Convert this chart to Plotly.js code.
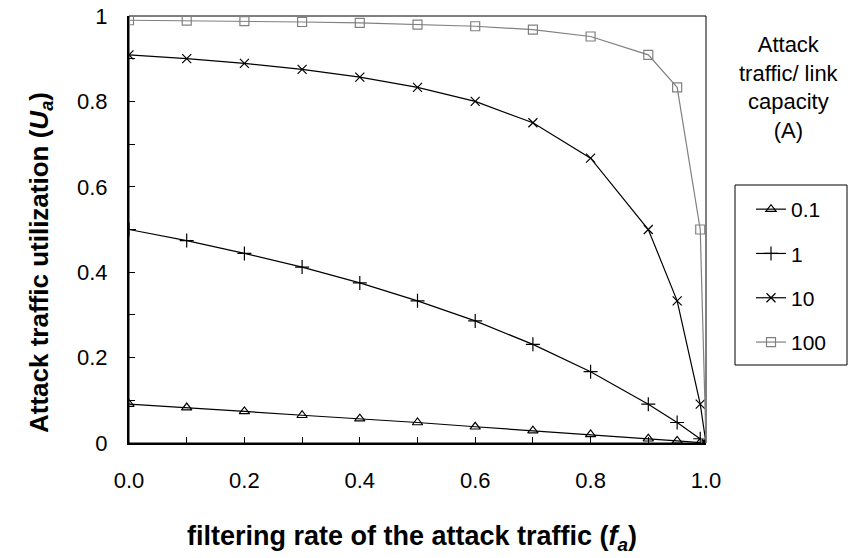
<!DOCTYPE html>
<html><head><meta charset="utf-8">
<script src="https://cdn.plot.ly/plotly-3.0.1.min.js"></script>
<style>html,body{margin:0;padding:0;background:#fff}#chart{width:850px;height:558px}</style>
</head><body><div id="chart"></div>
<script>
const filterRate = [0, 0.1, 0.2, 0.3, 0.4, 0.5, 0.6, 0.7, 0.8, 0.9, 0.95, 0.99, 1.0];
const seriesNames = ['0.1', '1', '10', '100'];
const ua_01  = [0.091, 0.083, 0.074, 0.065, 0.057, 0.048, 0.038, 0.029, 0.020, 0.010, 0.005, 0.001, 0];
const ua_1   = [0.5, 0.474, 0.444, 0.412, 0.375, 0.333, 0.286, 0.231, 0.167, 0.091, 0.048, 0.010, 0];
const ua_10  = [0.909, 0.9, 0.889, 0.875, 0.857, 0.833, 0.8, 0.75, 0.667, 0.5, 0.333, 0.091, 0];
const ua_100 = [0.990, 0.989, 0.988, 0.986, 0.984, 0.980, 0.976, 0.968, 0.952, 0.909, 0.833, 0.5, 0];
const xTickVals = [0, 0.2, 0.4, 0.6, 0.8, 1.0];
const xTickText = ['0.0', '0.2', '0.4', '0.6', '0.8', '1.0'];
const yTickVals = [0, 0.2, 0.4, 0.6, 0.8, 1];
const yTickText = ['0', '0.2', '0.4', '0.6', '0.8', '1'];

const FONT = 'Liberation Sans, Arial, sans-serif';
const seriesData = [ua_01, ua_1, ua_10, ua_100];
const symbols = ['triangle-up-open', 'cross-thin-open', 'x-thin-open', 'square-open'];
const colors = ['#000000', '#000000', '#000000', '#808080'];
const sizes = [9, 10, 9, 9];

const traces = seriesData.map((y, i) => ({
  x: filterRate, y: y, name: seriesNames[i], type: 'scatter', mode: 'lines+markers',
  legendgroup: 'g' + i,
  line: {color: colors[i], width: 1.2},
  marker: {symbol: symbols[i], size: sizes[i], color: colors[i], line: {color: colors[i], width: 1.2}}
}));

// pixel helpers for the plot area (l=129, r=706, t=16, b=443)
const PX = v => (v - 129) / 577;
const PY = v => (443 - v) / 427;

const layout = {
  width: 850, height: 558,
  margin: {l: 129, r: 144, t: 16, b: 115},
  paper_bgcolor: '#fff', plot_bgcolor: '#fff',
  font: {family: FONT, size: 22, color: '#000'},
  showlegend: true,
  legend: {
    x: PX(751), xanchor: 'left', y: PY(189), yanchor: 'top',
    borderwidth: 0, bgcolor: 'rgba(0,0,0,0)',
    font: {family: FONT, size: 21}, tracegroupgap: 14, itemwidth: 30,
    traceorder: 'grouped'
  },
  xaxis: {
    range: [0, 1], tickmode: 'array', tickvals: xTickVals, ticktext: xTickText,
    ticks: 'inside', ticklen: 6, tickcolor: '#000', showgrid: false, zeroline: false,
    minor: {dtick: 0.1, ticks: 'inside', ticklen: 6, tickcolor: '#000', showgrid: false},
    showline: true, linecolor: '#000', linewidth: 2, mirror: false,
    ticklabelstandoff: 17,
    tickfont: {family: FONT, size: 22}
  },
  yaxis: {
    range: [0, 1], tickmode: 'array', tickvals: yTickVals, ticktext: yTickText,
    ticks: 'inside', ticklen: 6, tickcolor: '#000', showgrid: false, zeroline: false,
    minor: {dtick: 0.1, ticks: 'inside', ticklen: 6, tickcolor: '#000', showgrid: false},
    showline: true, linecolor: '#000', linewidth: 2, mirror: false,
    ticklabelstandoff: 15,
    tickfont: {family: FONT, size: 22}
  },
  shapes: [
    {type: 'rect', xref: 'paper', yref: 'paper', x0: 0, x1: 1, y0: 0, y1: 1,
     line: {color: '#000', width: 1}, layer: 'below'},
    {type: 'rect', xref: 'paper', yref: 'paper', x0: PX(735), x1: PX(847), y0: PY(365), y1: PY(185),
     line: {color: '#000', width: 1}}
  ],
  annotations: [
    {
      xref: 'paper', yref: 'paper', x: PX(789), y: PY(87.5), xanchor: 'center', yanchor: 'middle',
      showarrow: false, align: 'center',
      text: 'Attack<br>traffic/ link<br>capacity<br>(A)',
      font: {family: FONT, size: 22}
    },
    {
      xref: 'paper', yref: 'paper', x: PX(412), y: PY(538),
      xanchor: 'center', yanchor: 'middle', showarrow: false,
      text: '<b>filtering rate of the attack traffic (<i>f</i><sub><i>a</i></sub>)</b>',
      font: {family: FONT, size: 27}
    },
    {
      xref: 'paper', yref: 'paper', x: PX(40), y: PY(263),
      xanchor: 'center', yanchor: 'middle', showarrow: false, textangle: -90,
      text: '<b>Attack traffic utilization (<i>U</i><sub><i>a</i></sub>)</b>',
      font: {family: FONT, size: 26}
    }
  ]
};
Plotly.newPlot('chart', traces, layout, {displayModeBar: false, staticPlot: true});
</script></body></html>
